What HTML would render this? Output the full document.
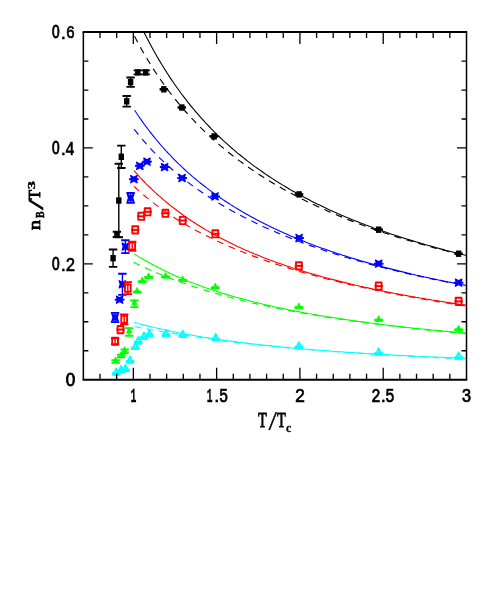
<!DOCTYPE html>
<html><head><meta charset="utf-8"><title>nB/T3</title>
<style>
html,body{margin:0;padding:0;background:#fff;}
body{width:491px;height:599px;position:relative;overflow:hidden;font-family:"Liberation Sans",sans-serif;}
</style></head><body>
<svg width="491" height="599" viewBox="0 0 491 599" style="position:absolute;left:0;top:0">
<rect x="0" y="0" width="491" height="599" fill="#ffffff"/>
<defs><clipPath id="cp"><rect x="83.35" y="32.1" width="383.15" height="347.59999999999997"/></clipPath></defs>
<g clip-path="url(#cp)" fill="none" stroke-linecap="butt" stroke-linejoin="round">
<path d="M133.5,34.2 L135.5,38.1 L137.5,41.9 L139.5,45.6 L141.5,49.2 L143.5,52.7 L145.5,56.1 L147.5,59.5 L149.5,62.8 L151.5,66.0 L153.5,69.1 L155.5,72.2 L157.5,75.2 L159.5,78.2 L161.5,81.0 L163.5,83.9 L165.5,86.6 L167.5,89.3 L169.5,92.0 L171.5,94.6 L173.5,97.1 L175.5,99.6 L177.5,102.1 L179.5,104.5 L181.5,106.9 L183.5,109.2 L185.5,111.5 L187.5,113.7 L189.5,115.9 L191.5,118.1 L193.5,120.2 L195.5,122.3 L197.5,124.4 L199.5,126.4 L201.5,128.4 L203.5,130.3 L205.5,132.3 L207.5,134.2 L209.5,136.0 L211.5,137.9 L213.5,139.7 L215.5,141.5 L217.5,143.2 L219.5,144.9 L221.5,146.6 L223.5,148.3 L225.5,150.0 L227.5,151.6 L229.5,153.2 L231.5,154.8 L233.5,156.3 L235.5,157.9 L237.5,159.4 L239.5,160.9 L241.5,162.3 L243.5,163.8 L245.5,165.2 L247.5,166.6 L249.5,168.0 L251.5,169.4 L253.5,170.8 L255.5,172.1 L257.5,173.4 L259.5,174.7 L261.5,176.0 L263.5,177.3 L265.5,178.5 L267.5,179.8 L269.5,181.0 L271.5,182.2 L273.5,183.4 L275.5,184.6 L277.5,185.8 L279.5,186.9 L281.5,188.1 L283.5,189.2 L285.5,190.3 L287.5,191.4 L289.5,192.5 L291.5,193.6 L293.5,194.6 L295.5,195.7 L297.5,196.7 L299.5,197.7 L301.5,198.8 L303.5,199.8 L305.5,200.8 L307.5,201.7 L309.5,202.7 L311.5,203.7 L313.5,204.6 L315.5,205.6 L317.5,206.5 L319.5,207.4 L321.5,208.3 L323.5,209.2 L325.5,210.1 L327.5,211.0 L329.5,211.9 L331.5,212.7 L333.5,213.6 L335.5,214.4 L337.5,215.3 L339.5,216.1 L341.5,216.9 L343.5,217.7 L345.5,218.6 L347.5,219.4 L349.5,220.1 L351.5,220.9 L353.5,221.7 L355.5,222.5 L357.5,223.2 L359.5,224.0 L361.5,224.7 L363.5,225.5 L365.5,226.2 L367.5,226.9 L369.5,227.6 L371.5,228.4 L373.5,229.1 L375.5,229.8 L377.5,230.5 L379.5,231.1 L381.5,231.8 L383.5,232.5 L385.5,233.2 L387.5,233.8 L389.5,234.5 L391.5,235.1 L393.5,235.8 L395.5,236.4 L397.5,237.1 L399.5,237.7 L401.5,238.3 L403.5,238.9 L405.5,239.5 L407.5,240.1 L409.5,240.7 L411.5,241.3 L413.5,241.9 L415.5,242.5 L417.5,243.1 L419.5,243.7 L421.5,244.3 L423.5,244.8 L425.5,245.4 L427.5,245.9 L429.5,246.5 L431.5,247.0 L433.5,247.6 L435.5,248.1 L437.5,248.7 L439.5,249.2 L441.5,249.7 L443.5,250.3 L445.5,250.8 L447.5,251.3 L449.5,251.8 L451.5,252.3 L453.5,252.8 L455.5,253.3 L457.5,253.8 L459.5,254.3 L461.5,254.8 L463.5,255.3 L465.5,255.8 L466.5,256.0" stroke="#000000" stroke-width="1.15" stroke-dasharray="6.8 5.7" stroke-dashoffset="-2.3"/>
<path d="M143.6,31.4 L145.6,35.4 L147.6,39.3 L149.6,43.1 L151.6,46.8 L153.6,50.5 L155.6,54.0 L157.6,57.5 L159.6,60.9 L161.6,64.3 L163.6,67.5 L165.6,70.7 L167.6,73.8 L169.6,76.9 L171.6,79.9 L173.6,82.8 L175.6,85.7 L177.6,88.5 L179.6,91.3 L181.6,94.0 L183.6,96.6 L185.6,99.2 L187.6,101.8 L189.6,104.3 L191.6,106.8 L193.6,109.2 L195.6,111.6 L197.6,113.9 L199.6,116.2 L201.6,118.4 L203.6,120.6 L205.6,122.8 L207.6,124.9 L209.6,127.0 L211.6,129.1 L213.6,131.1 L215.6,133.1 L217.6,135.1 L219.6,137.0 L221.6,138.9 L223.6,140.8 L225.6,142.6 L227.6,144.4 L229.6,146.2 L231.6,148.0 L233.6,149.7 L235.6,151.4 L237.6,153.1 L239.6,154.7 L241.6,156.3 L243.6,157.9 L245.6,159.5 L247.6,161.1 L249.6,162.6 L251.6,164.1 L253.6,165.6 L255.6,167.1 L257.6,168.5 L259.6,169.9 L261.6,171.3 L263.6,172.7 L265.6,174.1 L267.6,175.5 L269.6,176.8 L271.6,178.1 L273.6,179.4 L275.6,180.7 L277.6,181.9 L279.6,183.2 L281.6,184.4 L283.6,185.6 L285.6,186.8 L287.6,188.0 L289.6,189.2 L291.6,190.4 L293.6,191.5 L295.6,192.6 L297.6,193.7 L299.6,194.8 L301.6,195.9 L303.6,197.0 L305.6,198.1 L307.6,199.1 L309.6,200.1 L311.6,201.2 L313.6,202.2 L315.6,203.2 L317.6,204.2 L319.6,205.1 L321.6,206.1 L323.6,207.1 L325.6,208.0 L327.6,208.9 L329.6,209.9 L331.6,210.8 L333.6,211.7 L335.6,212.6 L337.6,213.5 L339.6,214.3 L341.6,215.2 L343.6,216.1 L345.6,216.9 L347.6,217.7 L349.6,218.6 L351.6,219.4 L353.6,220.2 L355.6,221.0 L357.6,221.8 L359.6,222.6 L361.6,223.4 L363.6,224.1 L365.6,224.9 L367.6,225.6 L369.6,226.4 L371.6,227.1 L373.6,227.9 L375.6,228.6 L377.6,229.3 L379.6,230.0 L381.6,230.7 L383.6,231.4 L385.6,232.1 L387.6,232.8 L389.6,233.5 L391.6,234.2 L393.6,234.8 L395.6,235.5 L397.6,236.1 L399.6,236.8 L401.6,237.4 L403.6,238.1 L405.6,238.7 L407.6,239.3 L409.6,239.9 L411.6,240.5 L413.6,241.1 L415.6,241.7 L417.6,242.3 L419.6,242.9 L421.6,243.5 L423.6,244.1 L425.6,244.7 L427.6,245.3 L429.6,245.8 L431.6,246.4 L433.6,246.9 L435.6,247.5 L437.6,248.0 L439.6,248.6 L441.6,249.1 L443.6,249.6 L445.6,250.2 L447.6,250.7 L449.6,251.2 L451.6,251.7 L453.6,252.2 L455.6,252.7 L457.6,253.3 L459.6,253.8 L461.6,254.2 L463.6,254.7 L465.6,255.2 L466.5,255.4" stroke="#000000" stroke-width="1.1"/>
<path d="M133.7,128.7 L135.7,131.2 L137.7,133.7 L139.7,136.2 L141.7,138.6 L143.7,140.9 L145.7,143.2 L147.7,145.5 L149.7,147.7 L151.7,149.8 L153.7,151.9 L155.7,154.0 L157.7,156.0 L159.7,158.0 L161.7,159.9 L163.7,161.8 L165.7,163.7 L167.7,165.5 L169.7,167.3 L171.7,169.0 L173.7,170.8 L175.7,172.5 L177.7,174.1 L179.7,175.8 L181.7,177.4 L183.7,179.0 L185.7,180.6 L187.7,182.1 L189.7,183.6 L191.7,185.1 L193.7,186.6 L195.7,188.0 L197.7,189.4 L199.7,190.8 L201.7,192.2 L203.7,193.5 L205.7,194.9 L207.7,196.2 L209.7,197.5 L211.7,198.8 L213.7,200.0 L215.7,201.3 L217.7,202.5 L219.7,203.7 L221.7,204.9 L223.7,206.1 L225.7,207.3 L227.7,208.4 L229.7,209.5 L231.7,210.7 L233.7,211.8 L235.7,212.8 L237.7,213.9 L239.7,215.0 L241.7,216.0 L243.7,217.1 L245.7,218.1 L247.7,219.1 L249.7,220.1 L251.7,221.1 L253.7,222.1 L255.7,223.0 L257.7,224.0 L259.7,224.9 L261.7,225.8 L263.7,226.8 L265.7,227.7 L267.7,228.6 L269.7,229.5 L271.7,230.3 L273.7,231.2 L275.7,232.1 L277.7,232.9 L279.7,233.8 L281.7,234.6 L283.7,235.4 L285.7,236.2 L287.7,237.0 L289.7,237.8 L291.7,238.6 L293.7,239.4 L295.7,240.2 L297.7,240.9 L299.7,241.7 L301.7,242.4 L303.7,243.2 L305.7,243.9 L307.7,244.6 L309.7,245.4 L311.7,246.1 L313.7,246.8 L315.7,247.5 L317.7,248.2 L319.7,248.8 L321.7,249.5 L323.7,250.2 L325.7,250.9 L327.7,251.5 L329.7,252.2 L331.7,252.8 L333.7,253.5 L335.7,254.1 L337.7,254.7 L339.7,255.4 L341.7,256.0 L343.7,256.6 L345.7,257.2 L347.7,257.8 L349.7,258.4 L351.7,259.0 L353.7,259.6 L355.7,260.1 L357.7,260.7 L359.7,261.3 L361.7,261.8 L363.7,262.4 L365.7,263.0 L367.7,263.5 L369.7,264.1 L371.7,264.6 L373.7,265.1 L375.7,265.7 L377.7,266.2 L379.7,266.7 L381.7,267.2 L383.7,267.8 L385.7,268.3 L387.7,268.8 L389.7,269.3 L391.7,269.8 L393.7,270.3 L395.7,270.8 L397.7,271.2 L399.7,271.7 L401.7,272.2 L403.7,272.7 L405.7,273.1 L407.7,273.6 L409.7,274.1 L411.7,274.5 L413.7,275.0 L415.7,275.4 L417.7,275.9 L419.7,276.3 L421.7,276.8 L423.7,277.2 L425.7,277.7 L427.7,278.1 L429.7,278.5 L431.7,278.9 L433.7,279.4 L435.7,279.8 L437.7,280.2 L439.7,280.6 L441.7,281.0 L443.7,281.4 L445.7,281.8 L447.7,282.2 L449.7,282.6 L451.7,283.0 L453.7,283.4 L455.7,283.8 L457.7,284.2 L459.7,284.6 L461.7,285.0 L463.7,285.4 L465.7,285.7 L466.5,285.9" stroke="#0000ff" stroke-width="1.15" stroke-dasharray="6.8 5.7" stroke-dashoffset="-0.8"/>
<path d="M134.6,110.2 L136.6,113.2 L138.6,116.2 L140.6,119.1 L142.6,121.9 L144.6,124.7 L146.6,127.4 L148.6,130.0 L150.6,132.6 L152.6,135.1 L154.6,137.6 L156.6,140.0 L158.6,142.4 L160.6,144.8 L162.6,147.0 L164.6,149.3 L166.6,151.5 L168.6,153.6 L170.6,155.7 L172.6,157.8 L174.6,159.8 L176.6,161.8 L178.6,163.8 L180.6,165.7 L182.6,167.6 L184.6,169.5 L186.6,171.3 L188.6,173.1 L190.6,174.8 L192.6,176.6 L194.6,178.3 L196.6,179.9 L198.6,181.6 L200.6,183.2 L202.6,184.8 L204.6,186.3 L206.6,187.9 L208.6,189.4 L210.6,190.9 L212.6,192.4 L214.6,193.8 L216.6,195.2 L218.6,196.6 L220.6,198.0 L222.6,199.4 L224.6,200.7 L226.6,202.0 L228.6,203.3 L230.6,204.6 L232.6,205.8 L234.6,207.1 L236.6,208.3 L238.6,209.5 L240.6,210.7 L242.6,211.9 L244.6,213.0 L246.6,214.2 L248.6,215.3 L250.6,216.4 L252.6,217.5 L254.6,218.6 L256.6,219.7 L258.6,220.7 L260.6,221.8 L262.6,222.8 L264.6,223.8 L266.6,224.8 L268.6,225.8 L270.6,226.7 L272.6,227.7 L274.6,228.7 L276.6,229.6 L278.6,230.5 L280.6,231.4 L282.6,232.3 L284.6,233.2 L286.6,234.1 L288.6,235.0 L290.6,235.9 L292.6,236.7 L294.6,237.5 L296.6,238.4 L298.6,239.2 L300.6,240.0 L302.6,240.8 L304.6,241.6 L306.6,242.4 L308.6,243.2 L310.6,243.9 L312.6,244.7 L314.6,245.4 L316.6,246.2 L318.6,246.9 L320.6,247.7 L322.6,248.4 L324.6,249.1 L326.6,249.8 L328.6,250.5 L330.6,251.2 L332.6,251.9 L334.6,252.5 L336.6,253.2 L338.6,253.9 L340.6,254.5 L342.6,255.2 L344.6,255.8 L346.6,256.4 L348.6,257.1 L350.6,257.7 L352.6,258.3 L354.6,258.9 L356.6,259.5 L358.6,260.1 L360.6,260.7 L362.6,261.3 L364.6,261.9 L366.6,262.4 L368.6,263.0 L370.6,263.6 L372.6,264.1 L374.6,264.7 L376.6,265.2 L378.6,265.8 L380.6,266.3 L382.6,266.8 L384.6,267.4 L386.6,267.9 L388.6,268.4 L390.6,268.9 L392.6,269.4 L394.6,269.9 L396.6,270.4 L398.6,270.9 L400.6,271.4 L402.6,271.9 L404.6,272.4 L406.6,272.9 L408.6,273.3 L410.6,273.8 L412.6,274.3 L414.6,274.7 L416.6,275.2 L418.6,275.6 L420.6,276.1 L422.6,276.5 L424.6,277.0 L426.6,277.4 L428.6,277.8 L430.6,278.3 L432.6,278.7 L434.6,279.1 L436.6,279.5 L438.6,280.0 L440.6,280.4 L442.6,280.8 L444.6,281.2 L446.6,281.6 L448.6,282.0 L450.6,282.4 L452.6,282.8 L454.6,283.2 L456.6,283.6 L458.6,284.0 L460.6,284.3 L462.6,284.7 L464.6,285.1 L466.5,285.4" stroke="#0000ff" stroke-width="1.1"/>
<path d="M134.0,186.4 L136.0,188.2 L138.0,190.1 L140.0,191.9 L142.0,193.6 L144.0,195.3 L146.0,197.0 L148.0,198.6 L150.0,200.3 L152.0,201.8 L154.0,203.4 L156.0,204.9 L158.0,206.4 L160.0,207.9 L162.0,209.3 L164.0,210.7 L166.0,212.1 L168.0,213.5 L170.0,214.8 L172.0,216.1 L174.0,217.4 L176.0,218.7 L178.0,219.9 L180.0,221.2 L182.0,222.4 L184.0,223.6 L186.0,224.7 L188.0,225.9 L190.0,227.0 L192.0,228.2 L194.0,229.3 L196.0,230.4 L198.0,231.4 L200.0,232.5 L202.0,233.5 L204.0,234.6 L206.0,235.6 L208.0,236.6 L210.0,237.6 L212.0,238.5 L214.0,239.5 L216.0,240.5 L218.0,241.4 L220.0,242.3 L222.0,243.2 L224.0,244.1 L226.0,245.0 L228.0,245.9 L230.0,246.8 L232.0,247.6 L234.0,248.5 L236.0,249.3 L238.0,250.1 L240.0,250.9 L242.0,251.7 L244.0,252.5 L246.0,253.3 L248.0,254.1 L250.0,254.9 L252.0,255.6 L254.0,256.4 L256.0,257.1 L258.0,257.8 L260.0,258.6 L262.0,259.3 L264.0,260.0 L266.0,260.7 L268.0,261.4 L270.0,262.1 L272.0,262.8 L274.0,263.4 L276.0,264.1 L278.0,264.8 L280.0,265.4 L282.0,266.0 L284.0,266.7 L286.0,267.3 L288.0,267.9 L290.0,268.6 L292.0,269.2 L294.0,269.8 L296.0,270.4 L298.0,271.0 L300.0,271.6 L302.0,272.1 L304.0,272.7 L306.0,273.3 L308.0,273.8 L310.0,274.4 L312.0,275.0 L314.0,275.5 L316.0,276.0 L318.0,276.6 L320.0,277.1 L322.0,277.6 L324.0,278.2 L326.0,278.7 L328.0,279.2 L330.0,279.7 L332.0,280.2 L334.0,280.7 L336.0,281.2 L338.0,281.7 L340.0,282.2 L342.0,282.7 L344.0,283.1 L346.0,283.6 L348.0,284.1 L350.0,284.6 L352.0,285.0 L354.0,285.5 L356.0,285.9 L358.0,286.4 L360.0,286.8 L362.0,287.3 L364.0,287.7 L366.0,288.1 L368.0,288.6 L370.0,289.0 L372.0,289.4 L374.0,289.8 L376.0,290.2 L378.0,290.7 L380.0,291.1 L382.0,291.5 L384.0,291.9 L386.0,292.3 L388.0,292.7 L390.0,293.1 L392.0,293.5 L394.0,293.8 L396.0,294.2 L398.0,294.6 L400.0,295.0 L402.0,295.4 L404.0,295.7 L406.0,296.1 L408.0,296.5 L410.0,296.8 L412.0,297.2 L414.0,297.5 L416.0,297.9 L418.0,298.3 L420.0,298.6 L422.0,298.9 L424.0,299.3 L426.0,299.6 L428.0,300.0 L430.0,300.3 L432.0,300.6 L434.0,301.0 L436.0,301.3 L438.0,301.6 L440.0,302.0 L442.0,302.3 L444.0,302.6 L446.0,302.9 L448.0,303.2 L450.0,303.5 L452.0,303.9 L454.0,304.2 L456.0,304.5 L458.0,304.8 L460.0,305.1 L462.0,305.4 L464.0,305.7 L466.0,306.0 L466.5,306.0" stroke="#ff0000" stroke-width="1.15" stroke-dasharray="6.8 5.7" stroke-dashoffset="0"/>
<path d="M134.0,170.7 L136.0,172.9 L138.0,175.1 L140.0,177.3 L142.0,179.4 L144.0,181.5 L146.0,183.6 L148.0,185.6 L150.0,187.5 L152.0,189.4 L154.0,191.3 L156.0,193.2 L158.0,195.0 L160.0,196.7 L162.0,198.5 L164.0,200.2 L166.0,201.9 L168.0,203.5 L170.0,205.1 L172.0,206.7 L174.0,208.3 L176.0,209.8 L178.0,211.3 L180.0,212.8 L182.0,214.3 L184.0,215.7 L186.0,217.1 L188.0,218.5 L190.0,219.8 L192.0,221.2 L194.0,222.5 L196.0,223.8 L198.0,225.0 L200.0,226.3 L202.0,227.5 L204.0,228.7 L206.0,229.9 L208.0,231.1 L210.0,232.2 L212.0,233.4 L214.0,234.5 L216.0,235.6 L218.0,236.7 L220.0,237.7 L222.0,238.8 L224.0,239.8 L226.0,240.8 L228.0,241.8 L230.0,242.8 L232.0,243.8 L234.0,244.8 L236.0,245.7 L238.0,246.7 L240.0,247.6 L242.0,248.5 L244.0,249.4 L246.0,250.3 L248.0,251.1 L250.0,252.0 L252.0,252.8 L254.0,253.7 L256.0,254.5 L258.0,255.3 L260.0,256.1 L262.0,256.9 L264.0,257.7 L266.0,258.5 L268.0,259.2 L270.0,260.0 L272.0,260.7 L274.0,261.5 L276.0,262.2 L278.0,262.9 L280.0,263.6 L282.0,264.3 L284.0,265.0 L286.0,265.7 L288.0,266.4 L290.0,267.0 L292.0,267.7 L294.0,268.3 L296.0,269.0 L298.0,269.6 L300.0,270.3 L302.0,270.9 L304.0,271.5 L306.0,272.1 L308.0,272.7 L310.0,273.3 L312.0,273.9 L314.0,274.4 L316.0,275.0 L318.0,275.6 L320.0,276.1 L322.0,276.7 L324.0,277.2 L326.0,277.8 L328.0,278.3 L330.0,278.9 L332.0,279.4 L334.0,279.9 L336.0,280.4 L338.0,280.9 L340.0,281.4 L342.0,281.9 L344.0,282.4 L346.0,282.9 L348.0,283.4 L350.0,283.9 L352.0,284.3 L354.0,284.8 L356.0,285.3 L358.0,285.7 L360.0,286.2 L362.0,286.6 L364.0,287.1 L366.0,287.5 L368.0,287.9 L370.0,288.4 L372.0,288.8 L374.0,289.2 L376.0,289.7 L378.0,290.1 L380.0,290.5 L382.0,290.9 L384.0,291.3 L386.0,291.7 L388.0,292.1 L390.0,292.5 L392.0,292.9 L394.0,293.3 L396.0,293.6 L398.0,294.0 L400.0,294.4 L402.0,294.8 L404.0,295.1 L406.0,295.5 L408.0,295.9 L410.0,296.2 L412.0,296.6 L414.0,296.9 L416.0,297.3 L418.0,297.6 L420.0,298.0 L422.0,298.3 L424.0,298.6 L426.0,299.0 L428.0,299.3 L430.0,299.6 L432.0,300.0 L434.0,300.3 L436.0,300.6 L438.0,300.9 L440.0,301.2 L442.0,301.5 L444.0,301.9 L446.0,302.2 L448.0,302.5 L450.0,302.8 L452.0,303.1 L454.0,303.4 L456.0,303.7 L458.0,304.0 L460.0,304.2 L462.0,304.5 L464.0,304.8 L466.0,305.1 L466.5,305.2" stroke="#ff0000" stroke-width="1.1"/>
<path d="M133.6,262.2 L135.6,263.2 L137.6,264.2 L139.6,265.1 L141.6,266.1 L143.6,267.0 L145.6,267.9 L147.6,268.8 L149.6,269.7 L151.6,270.6 L153.6,271.5 L155.6,272.3 L157.6,273.2 L159.6,274.0 L161.6,274.8 L163.6,275.6 L165.6,276.4 L167.6,277.2 L169.6,278.0 L171.6,278.8 L173.6,279.5 L175.6,280.3 L177.6,281.0 L179.6,281.7 L181.6,282.5 L183.6,283.2 L185.6,283.9 L187.6,284.6 L189.6,285.2 L191.6,285.9 L193.6,286.6 L195.6,287.2 L197.6,287.9 L199.6,288.5 L201.6,289.1 L203.6,289.8 L205.6,290.4 L207.6,291.0 L209.6,291.6 L211.6,292.2 L213.6,292.8 L215.6,293.4 L217.6,293.9 L219.6,294.5 L221.6,295.1 L223.6,295.6 L225.6,296.2 L227.6,296.7 L229.6,297.2 L231.6,297.7 L233.6,298.3 L235.6,298.8 L237.6,299.3 L239.6,299.8 L241.6,300.3 L243.6,300.8 L245.6,301.3 L247.6,301.7 L249.6,302.2 L251.6,302.7 L253.6,303.2 L255.6,303.6 L257.6,304.1 L259.6,304.5 L261.6,305.0 L263.6,305.4 L265.6,305.8 L267.6,306.3 L269.6,306.7 L271.6,307.1 L273.6,307.5 L275.6,307.9 L277.6,308.3 L279.6,308.7 L281.6,309.1 L283.6,309.5 L285.6,309.9 L287.6,310.3 L289.6,310.7 L291.6,311.1 L293.6,311.4 L295.6,311.8 L297.6,312.2 L299.6,312.5 L301.6,312.9 L303.6,313.3 L305.6,313.6 L307.6,314.0 L309.6,314.3 L311.6,314.7 L313.6,315.0 L315.6,315.3 L317.6,315.7 L319.6,316.0 L321.6,316.3 L323.6,316.6 L325.6,317.0 L327.6,317.3 L329.6,317.6 L331.6,317.9 L333.6,318.2 L335.6,318.5 L337.6,318.8 L339.6,319.1 L341.6,319.4 L343.6,319.7 L345.6,320.0 L347.6,320.3 L349.6,320.6 L351.6,320.9 L353.6,321.1 L355.6,321.4 L357.6,321.7 L359.6,322.0 L361.6,322.2 L363.6,322.5 L365.6,322.8 L367.6,323.0 L369.6,323.3 L371.6,323.6 L373.6,323.8 L375.6,324.1 L377.6,324.3 L379.6,324.6 L381.6,324.8 L383.6,325.1 L385.6,325.3 L387.6,325.6 L389.6,325.8 L391.6,326.0 L393.6,326.3 L395.6,326.5 L397.6,326.7 L399.6,327.0 L401.6,327.2 L403.6,327.4 L405.6,327.7 L407.6,327.9 L409.6,328.1 L411.6,328.3 L413.6,328.5 L415.6,328.8 L417.6,329.0 L419.6,329.2 L421.6,329.4 L423.6,329.6 L425.6,329.8 L427.6,330.0 L429.6,330.2 L431.6,330.4 L433.6,330.6 L435.6,330.8 L437.6,331.0 L439.6,331.2 L441.6,331.4 L443.6,331.6 L445.6,331.8 L447.6,332.0 L449.6,332.2 L451.6,332.4 L453.6,332.6 L455.6,332.8 L457.6,333.0 L459.6,333.1 L461.6,333.3 L463.6,333.5 L465.6,333.7 L466.5,333.8" stroke="#00ff00" stroke-width="1.15" stroke-dasharray="6.8 5.7" stroke-dashoffset="0"/>
<path d="M134.3,253.9 L136.3,255.2 L138.3,256.4 L140.3,257.6 L142.3,258.8 L144.3,260.0 L146.3,261.1 L148.3,262.2 L150.3,263.4 L152.3,264.4 L154.3,265.5 L156.3,266.6 L158.3,267.6 L160.3,268.6 L162.3,269.6 L164.3,270.6 L166.3,271.6 L168.3,272.5 L170.3,273.4 L172.3,274.4 L174.3,275.3 L176.3,276.2 L178.3,277.0 L180.3,277.9 L182.3,278.7 L184.3,279.6 L186.3,280.4 L188.3,281.2 L190.3,282.0 L192.3,282.8 L194.3,283.5 L196.3,284.3 L198.3,285.0 L200.3,285.8 L202.3,286.5 L204.3,287.2 L206.3,287.9 L208.3,288.6 L210.3,289.3 L212.3,289.9 L214.3,290.6 L216.3,291.3 L218.3,291.9 L220.3,292.5 L222.3,293.2 L224.3,293.8 L226.3,294.4 L228.3,295.0 L230.3,295.6 L232.3,296.1 L234.3,296.7 L236.3,297.3 L238.3,297.8 L240.3,298.4 L242.3,298.9 L244.3,299.5 L246.3,300.0 L248.3,300.5 L250.3,301.0 L252.3,301.5 L254.3,302.0 L256.3,302.5 L258.3,303.0 L260.3,303.5 L262.3,304.0 L264.3,304.5 L266.3,304.9 L268.3,305.4 L270.3,305.8 L272.3,306.3 L274.3,306.7 L276.3,307.2 L278.3,307.6 L280.3,308.0 L282.3,308.4 L284.3,308.9 L286.3,309.3 L288.3,309.7 L290.3,310.1 L292.3,310.5 L294.3,310.9 L296.3,311.2 L298.3,311.6 L300.3,312.0 L302.3,312.4 L304.3,312.8 L306.3,313.1 L308.3,313.5 L310.3,313.8 L312.3,314.2 L314.3,314.5 L316.3,314.9 L318.3,315.2 L320.3,315.6 L322.3,315.9 L324.3,316.2 L326.3,316.6 L328.3,316.9 L330.3,317.2 L332.3,317.5 L334.3,317.8 L336.3,318.1 L338.3,318.5 L340.3,318.8 L342.3,319.1 L344.3,319.4 L346.3,319.7 L348.3,319.9 L350.3,320.2 L352.3,320.5 L354.3,320.8 L356.3,321.1 L358.3,321.4 L360.3,321.6 L362.3,321.9 L364.3,322.2 L366.3,322.4 L368.3,322.7 L370.3,323.0 L372.3,323.2 L374.3,323.5 L376.3,323.7 L378.3,324.0 L380.3,324.3 L382.3,324.5 L384.3,324.7 L386.3,325.0 L388.3,325.2 L390.3,325.5 L392.3,325.7 L394.3,325.9 L396.3,326.2 L398.3,326.4 L400.3,326.6 L402.3,326.9 L404.3,327.1 L406.3,327.3 L408.3,327.5 L410.3,327.7 L412.3,328.0 L414.3,328.2 L416.3,328.4 L418.3,328.6 L420.3,328.8 L422.3,329.0 L424.3,329.2 L426.3,329.4 L428.3,329.6 L430.3,329.8 L432.3,330.0 L434.3,330.2 L436.3,330.4 L438.3,330.6 L440.3,330.8 L442.3,331.0 L444.3,331.2 L446.3,331.4 L448.3,331.5 L450.3,331.7 L452.3,331.9 L454.3,332.1 L456.3,332.3 L458.3,332.4 L460.3,332.6 L462.3,332.8 L464.3,333.0 L466.3,333.1 L466.5,333.2" stroke="#00ff00" stroke-width="1.1"/>
<path d="M134.4,326.7 L136.4,327.0 L138.4,327.4 L140.4,327.7 L142.4,328.1 L144.4,328.4 L146.4,328.8 L148.4,329.1 L150.4,329.5 L152.4,329.8 L154.4,330.2 L156.4,330.5 L158.4,330.9 L160.4,331.2 L162.4,331.6 L164.4,331.9 L166.4,332.2 L168.4,332.6 L170.4,332.9 L172.4,333.2 L174.4,333.6 L176.4,333.9 L178.4,334.2 L180.4,334.5 L182.4,334.9 L184.4,335.2 L186.4,335.5 L188.4,335.8 L190.4,336.1 L192.4,336.4 L194.4,336.7 L196.4,337.0 L198.4,337.3 L200.4,337.6 L202.4,337.9 L204.4,338.2 L206.4,338.5 L208.4,338.7 L210.4,339.0 L212.4,339.3 L214.4,339.6 L216.4,339.8 L218.4,340.1 L220.4,340.4 L222.4,340.6 L224.4,340.9 L226.4,341.2 L228.4,341.4 L230.4,341.7 L232.4,341.9 L234.4,342.2 L236.4,342.4 L238.4,342.6 L240.4,342.9 L242.4,343.1 L244.4,343.3 L246.4,343.6 L248.4,343.8 L250.4,344.0 L252.4,344.2 L254.4,344.5 L256.4,344.7 L258.4,344.9 L260.4,345.1 L262.4,345.3 L264.4,345.5 L266.4,345.7 L268.4,345.9 L270.4,346.1 L272.4,346.3 L274.4,346.5 L276.4,346.7 L278.4,346.9 L280.4,347.1 L282.4,347.3 L284.4,347.5 L286.4,347.7 L288.4,347.9 L290.4,348.1 L292.4,348.2 L294.4,348.4 L296.4,348.6 L298.4,348.8 L300.4,348.9 L302.4,349.1 L304.4,349.3 L306.4,349.5 L308.4,349.6 L310.4,349.8 L312.4,349.9 L314.4,350.1 L316.4,350.3 L318.4,350.4 L320.4,350.6 L322.4,350.7 L324.4,350.9 L326.4,351.0 L328.4,351.2 L330.4,351.3 L332.4,351.5 L334.4,351.6 L336.4,351.8 L338.4,351.9 L340.4,352.1 L342.4,352.2 L344.4,352.4 L346.4,352.5 L348.4,352.6 L350.4,352.8 L352.4,352.9 L354.4,353.0 L356.4,353.2 L358.4,353.3 L360.4,353.4 L362.4,353.6 L364.4,353.7 L366.4,353.8 L368.4,353.9 L370.4,354.1 L372.4,354.2 L374.4,354.3 L376.4,354.4 L378.4,354.5 L380.4,354.7 L382.4,354.8 L384.4,354.9 L386.4,355.0 L388.4,355.1 L390.4,355.2 L392.4,355.4 L394.4,355.5 L396.4,355.6 L398.4,355.7 L400.4,355.8 L402.4,355.9 L404.4,356.0 L406.4,356.1 L408.4,356.2 L410.4,356.3 L412.4,356.4 L414.4,356.5 L416.4,356.6 L418.4,356.7 L420.4,356.8 L422.4,356.9 L424.4,357.0 L426.4,357.1 L428.4,357.2 L430.4,357.3 L432.4,357.4 L434.4,357.5 L436.4,357.6 L438.4,357.7 L440.4,357.8 L442.4,357.9 L444.4,358.0 L446.4,358.1 L448.4,358.2 L450.4,358.3 L452.4,358.3 L454.4,358.4 L456.4,358.5 L458.4,358.6 L460.4,358.7 L462.4,358.8 L464.4,358.9 L466.4,358.9 L466.5,358.9" stroke="#00ffff" stroke-width="1.15" stroke-dasharray="6.8 5.7" stroke-dashoffset="0"/>
<path d="M134.4,322.4 L136.4,323.0 L138.4,323.5 L140.4,324.0 L142.4,324.6 L144.4,325.1 L146.4,325.6 L148.4,326.1 L150.4,326.6 L152.4,327.0 L154.4,327.5 L156.4,328.0 L158.4,328.4 L160.4,328.9 L162.4,329.3 L164.4,329.8 L166.4,330.2 L168.4,330.6 L170.4,331.1 L172.4,331.5 L174.4,331.9 L176.4,332.3 L178.4,332.7 L180.4,333.1 L182.4,333.4 L184.4,333.8 L186.4,334.2 L188.4,334.6 L190.4,334.9 L192.4,335.3 L194.4,335.6 L196.4,336.0 L198.4,336.3 L200.4,336.6 L202.4,337.0 L204.4,337.3 L206.4,337.6 L208.4,337.9 L210.4,338.2 L212.4,338.5 L214.4,338.8 L216.4,339.1 L218.4,339.4 L220.4,339.7 L222.4,340.0 L224.4,340.3 L226.4,340.6 L228.4,340.8 L230.4,341.1 L232.4,341.4 L234.4,341.6 L236.4,341.9 L238.4,342.2 L240.4,342.4 L242.4,342.7 L244.4,342.9 L246.4,343.1 L248.4,343.4 L250.4,343.6 L252.4,343.9 L254.4,344.1 L256.4,344.3 L258.4,344.5 L260.4,344.8 L262.4,345.0 L264.4,345.2 L266.4,345.4 L268.4,345.6 L270.4,345.8 L272.4,346.0 L274.4,346.2 L276.4,346.4 L278.4,346.6 L280.4,346.8 L282.4,347.0 L284.4,347.2 L286.4,347.4 L288.4,347.6 L290.4,347.8 L292.4,348.0 L294.4,348.1 L296.4,348.3 L298.4,348.5 L300.4,348.7 L302.4,348.8 L304.4,349.0 L306.4,349.2 L308.4,349.3 L310.4,349.5 L312.4,349.7 L314.4,349.8 L316.4,350.0 L318.4,350.1 L320.4,350.3 L322.4,350.5 L324.4,350.6 L326.4,350.8 L328.4,350.9 L330.4,351.1 L332.4,351.2 L334.4,351.4 L336.4,351.5 L338.4,351.6 L340.4,351.8 L342.4,351.9 L344.4,352.1 L346.4,352.2 L348.4,352.3 L350.4,352.5 L352.4,352.6 L354.4,352.7 L356.4,352.8 L358.4,353.0 L360.4,353.1 L362.4,353.2 L364.4,353.4 L366.4,353.5 L368.4,353.6 L370.4,353.7 L372.4,353.8 L374.4,354.0 L376.4,354.1 L378.4,354.2 L380.4,354.3 L382.4,354.4 L384.4,354.5 L386.4,354.6 L388.4,354.8 L390.4,354.9 L392.4,355.0 L394.4,355.1 L396.4,355.2 L398.4,355.3 L400.4,355.4 L402.4,355.5 L404.4,355.6 L406.4,355.7 L408.4,355.8 L410.4,355.9 L412.4,356.0 L414.4,356.1 L416.4,356.2 L418.4,356.3 L420.4,356.4 L422.4,356.5 L424.4,356.6 L426.4,356.7 L428.4,356.8 L430.4,356.9 L432.4,357.0 L434.4,357.0 L436.4,357.1 L438.4,357.2 L440.4,357.3 L442.4,357.4 L444.4,357.5 L446.4,357.6 L448.4,357.7 L450.4,357.7 L452.4,357.8 L454.4,357.9 L456.4,358.0 L458.4,358.1 L460.4,358.2 L462.4,358.2 L464.4,358.3 L466.4,358.4 L466.5,358.4" stroke="#00ffff" stroke-width="1.1"/>
</g>
<g>
<path d="M113.1,249.5V266.9" stroke="#000000" stroke-width="1.4" fill="none"/><path d="M108.9,249.5H117.3M108.9,266.9H117.3" stroke="#000000" stroke-width="1.9" fill="none"/><rect x="110.4" y="255.0" width="5.4" height="6.4" fill="#000000"/>
<path d="M116.9,231.8V237.0" stroke="#000000" stroke-width="1.4" fill="none"/><path d="M112.7,231.8H121.1M112.7,237.0H121.1" stroke="#000000" stroke-width="1.9" fill="none"/><rect x="114.2" y="231.2" width="5.4" height="6.4" fill="#000000"/>
<path d="M118.8,163.8V237.2" stroke="#000000" stroke-width="1.4" fill="none"/><path d="M114.6,163.8H123.0M114.6,237.2H123.0" stroke="#000000" stroke-width="1.9" fill="none"/><rect x="116.1" y="197.3" width="5.4" height="6.4" fill="#000000"/>
<path d="M121.3,145.6V168.0" stroke="#000000" stroke-width="1.4" fill="none"/><path d="M117.1,145.6H125.5M117.1,168.0H125.5" stroke="#000000" stroke-width="1.9" fill="none"/><rect x="118.6" y="153.6" width="5.4" height="6.4" fill="#000000"/>
<path d="M126.7,96.0V106.6" stroke="#000000" stroke-width="1.4" fill="none"/><path d="M122.5,96.0H130.9M122.5,106.6H130.9" stroke="#000000" stroke-width="1.9" fill="none"/><rect x="124.0" y="98.1" width="5.4" height="6.4" fill="#000000"/>
<path d="M130.6,77.5V86.9" stroke="#000000" stroke-width="1.4" fill="none"/><path d="M126.4,77.5H134.8M126.4,86.9H134.8" stroke="#000000" stroke-width="1.9" fill="none"/><rect x="127.9" y="79.0" width="5.4" height="6.4" fill="#000000"/>
<path d="M137.8,70.4V74.4" stroke="#000000" stroke-width="1.4" fill="none"/><path d="M133.6,70.4H142.0M133.6,74.4H142.0" stroke="#000000" stroke-width="1.9" fill="none"/><rect x="135.1" y="69.2" width="5.4" height="6.4" fill="#000000"/>
<path d="M145.7,70.4V74.4" stroke="#000000" stroke-width="1.4" fill="none"/><path d="M141.5,70.4H149.9M141.5,74.4H149.9" stroke="#000000" stroke-width="1.9" fill="none"/><rect x="143.0" y="69.2" width="5.4" height="6.4" fill="#000000"/>
<path d="M159.6,89.3H168.0" stroke="#000000" stroke-width="2.6" fill="none"/><rect x="161.1" y="86.1" width="5.4" height="6.4" fill="#000000"/>
<path d="M177.6,107.5H186.0" stroke="#000000" stroke-width="2.6" fill="none"/><rect x="179.1" y="104.3" width="5.4" height="6.4" fill="#000000"/>
<path d="M209.9,136.4H218.3" stroke="#000000" stroke-width="2.6" fill="none"/><rect x="211.4" y="133.2" width="5.4" height="6.4" fill="#000000"/>
<path d="M294.9,194.4H303.3" stroke="#000000" stroke-width="2.6" fill="none"/><rect x="296.4" y="191.2" width="5.4" height="6.4" fill="#000000"/>
<path d="M374.5,229.7H382.9" stroke="#000000" stroke-width="2.6" fill="none"/><rect x="376.0" y="226.5" width="5.4" height="6.4" fill="#000000"/>
<path d="M454.4,253.7H462.8" stroke="#000000" stroke-width="2.6" fill="none"/><rect x="455.9" y="250.5" width="5.4" height="6.4" fill="#000000"/>
<path d="M115.1,312.9V322.1" stroke="#0000ff" stroke-width="1.4" fill="none"/><path d="M110.9,312.9H119.3M110.9,322.1H119.3" stroke="#0000ff" stroke-width="1.9" fill="none"/><path d="M111.9,313.9L115.1,315.7L118.3,313.9L117.2,317.5L118.3,321.1L115.1,319.3L111.9,321.1L113.0,317.5Z" fill="#0000ff" stroke="#0000ff" stroke-width="1.3" stroke-linejoin="round"/>
<path d="M114.8,299.7H124.4" stroke="#0000ff" stroke-width="2" fill="none"/><path d="M116.4,296.1L119.6,297.9L122.8,296.1L121.7,299.7L122.8,303.3L119.6,301.5L116.4,303.3L117.5,299.7Z" fill="#0000ff" stroke="#0000ff" stroke-width="1.3" stroke-linejoin="round"/>
<path d="M122.4,273.7V294.9" stroke="#0000ff" stroke-width="1.4" fill="none"/><path d="M118.2,273.7H126.6M118.2,294.9H126.6" stroke="#0000ff" stroke-width="1.9" fill="none"/><path d="M119.2,280.7L122.4,282.5L125.6,280.7L124.5,284.3L125.6,287.9L122.4,286.1L119.2,287.9L120.3,284.3Z" fill="#0000ff" stroke="#0000ff" stroke-width="1.3" stroke-linejoin="round"/>
<path d="M125.4,240.3V253.1" stroke="#0000ff" stroke-width="1.4" fill="none"/><path d="M121.2,240.3H129.6M121.2,253.1H129.6" stroke="#0000ff" stroke-width="1.9" fill="none"/><path d="M122.2,243.1L125.4,244.9L128.6,243.1L127.5,246.7L128.6,250.3L125.4,248.5L122.2,250.3L123.3,246.7Z" fill="#0000ff" stroke="#0000ff" stroke-width="1.3" stroke-linejoin="round"/>
<path d="M130.6,193.0V202.8" stroke="#0000ff" stroke-width="1.4" fill="none"/><path d="M126.4,193.0H134.8M126.4,202.8H134.8" stroke="#0000ff" stroke-width="1.9" fill="none"/><path d="M127.4,194.3L130.6,196.1L133.8,194.3L132.7,197.9L133.8,201.5L130.6,199.7L127.4,201.5L128.5,197.9Z" fill="#0000ff" stroke="#0000ff" stroke-width="1.3" stroke-linejoin="round"/>
<path d="M129.1,179.2H138.7" stroke="#0000ff" stroke-width="2" fill="none"/><path d="M130.7,175.6L133.9,177.4L137.1,175.6L136.0,179.2L137.1,182.8L133.9,181.0L130.7,182.8L131.8,179.2Z" fill="#0000ff" stroke="#0000ff" stroke-width="1.3" stroke-linejoin="round"/>
<path d="M135.0,165.8H144.6" stroke="#0000ff" stroke-width="2" fill="none"/><path d="M136.6,162.2L139.8,164.0L143.0,162.2L141.9,165.8L143.0,169.4L139.8,167.6L136.6,169.4L137.7,165.8Z" fill="#0000ff" stroke="#0000ff" stroke-width="1.3" stroke-linejoin="round"/>
<path d="M142.2,161.7H151.8" stroke="#0000ff" stroke-width="2" fill="none"/><path d="M143.8,158.1L147.0,159.9L150.2,158.1L149.1,161.7L150.2,165.3L147.0,163.5L143.8,165.3L144.9,161.7Z" fill="#0000ff" stroke="#0000ff" stroke-width="1.3" stroke-linejoin="round"/>
<path d="M159.8,167.1H169.4" stroke="#0000ff" stroke-width="2" fill="none"/><path d="M161.4,163.5L164.6,165.3L167.8,163.5L166.7,167.1L167.8,170.7L164.6,168.9L161.4,170.7L162.5,167.1Z" fill="#0000ff" stroke="#0000ff" stroke-width="1.3" stroke-linejoin="round"/>
<path d="M177.3,178.0H186.9" stroke="#0000ff" stroke-width="2" fill="none"/><path d="M178.9,174.4L182.1,176.2L185.3,174.4L184.2,178.0L185.3,181.6L182.1,179.8L178.9,181.6L180.0,178.0Z" fill="#0000ff" stroke="#0000ff" stroke-width="1.3" stroke-linejoin="round"/>
<path d="M210.2,196.4H219.8" stroke="#0000ff" stroke-width="2" fill="none"/><path d="M211.8,192.8L215.0,194.6L218.2,192.8L217.1,196.4L218.2,200.0L215.0,198.2L211.8,200.0L212.9,196.4Z" fill="#0000ff" stroke="#0000ff" stroke-width="1.3" stroke-linejoin="round"/>
<path d="M294.3,238.0H303.9" stroke="#0000ff" stroke-width="2" fill="none"/><path d="M295.9,234.4L299.1,236.2L302.3,234.4L301.2,238.0L302.3,241.6L299.1,239.8L295.9,241.6L297.0,238.0Z" fill="#0000ff" stroke="#0000ff" stroke-width="1.3" stroke-linejoin="round"/>
<path d="M373.9,263.7H383.5" stroke="#0000ff" stroke-width="2" fill="none"/><path d="M375.5,260.1L378.7,261.9L381.9,260.1L380.8,263.7L381.9,267.3L378.7,265.5L375.5,267.3L376.6,263.7Z" fill="#0000ff" stroke="#0000ff" stroke-width="1.3" stroke-linejoin="round"/>
<path d="M453.8,282.7H463.4" stroke="#0000ff" stroke-width="2" fill="none"/><path d="M455.4,279.1L458.6,280.9L461.8,279.1L460.7,282.7L461.8,286.3L458.6,284.5L455.4,286.3L456.5,282.7Z" fill="#0000ff" stroke="#0000ff" stroke-width="1.3" stroke-linejoin="round"/>
<path d="M115.1,338.2V344.2" stroke="#ff0000" stroke-width="1.4" fill="none"/><path d="M110.9,338.2H119.3M110.9,344.2H119.3" stroke="#ff0000" stroke-width="1.9" fill="none"/><rect x="112.2" y="337.6" width="5.8" height="7.2" fill="none" stroke="#ff0000" stroke-width="1.9" stroke-linejoin="round"/>
<path d="M116.3,329.6H124.7" stroke="#ff0000" stroke-width="2" fill="none"/><rect x="117.6" y="326.0" width="5.8" height="7.2" fill="none" stroke="#ff0000" stroke-width="1.9" stroke-linejoin="round"/>
<path d="M124.2,314.4V324.4" stroke="#ff0000" stroke-width="1.4" fill="none"/><path d="M120.0,314.4H128.4M120.0,324.4H128.4" stroke="#ff0000" stroke-width="1.9" fill="none"/><rect x="121.3" y="315.8" width="5.8" height="7.2" fill="none" stroke="#ff0000" stroke-width="1.9" stroke-linejoin="round"/>
<path d="M127.8,282.1V294.1" stroke="#ff0000" stroke-width="1.4" fill="none"/><path d="M123.6,282.1H132.0M123.6,294.1H132.0" stroke="#ff0000" stroke-width="1.9" fill="none"/><rect x="124.9" y="284.5" width="5.8" height="7.2" fill="none" stroke="#ff0000" stroke-width="1.9" stroke-linejoin="round"/>
<path d="M132.2,241.7V250.7" stroke="#ff0000" stroke-width="1.4" fill="none"/><path d="M128.0,241.7H136.4M128.0,250.7H136.4" stroke="#ff0000" stroke-width="1.9" fill="none"/><rect x="129.3" y="242.6" width="5.8" height="7.2" fill="none" stroke="#ff0000" stroke-width="1.9" stroke-linejoin="round"/>
<path d="M131.0,229.9H139.4" stroke="#ff0000" stroke-width="2" fill="none"/><rect x="132.3" y="226.3" width="5.8" height="7.2" fill="none" stroke="#ff0000" stroke-width="1.9" stroke-linejoin="round"/>
<path d="M137.0,216.3H145.4" stroke="#ff0000" stroke-width="2" fill="none"/><rect x="138.3" y="212.7" width="5.8" height="7.2" fill="none" stroke="#ff0000" stroke-width="1.9" stroke-linejoin="round"/>
<path d="M143.4,211.8H151.8" stroke="#ff0000" stroke-width="2" fill="none"/><rect x="144.7" y="208.2" width="5.8" height="7.2" fill="none" stroke="#ff0000" stroke-width="1.9" stroke-linejoin="round"/>
<path d="M161.2,213.3H169.6" stroke="#ff0000" stroke-width="2" fill="none"/><rect x="162.5" y="209.7" width="5.8" height="7.2" fill="none" stroke="#ff0000" stroke-width="1.9" stroke-linejoin="round"/>
<path d="M178.5,220.5H186.9" stroke="#ff0000" stroke-width="2" fill="none"/><rect x="179.8" y="216.9" width="5.8" height="7.2" fill="none" stroke="#ff0000" stroke-width="1.9" stroke-linejoin="round"/>
<path d="M211.1,233.8H219.5" stroke="#ff0000" stroke-width="2" fill="none"/><rect x="212.4" y="230.2" width="5.8" height="7.2" fill="none" stroke="#ff0000" stroke-width="1.9" stroke-linejoin="round"/>
<path d="M294.7,265.9H303.1" stroke="#ff0000" stroke-width="2" fill="none"/><rect x="296.0" y="262.3" width="5.8" height="7.2" fill="none" stroke="#ff0000" stroke-width="1.9" stroke-linejoin="round"/>
<path d="M374.5,286.1H382.9" stroke="#ff0000" stroke-width="2" fill="none"/><rect x="375.8" y="282.5" width="5.8" height="7.2" fill="none" stroke="#ff0000" stroke-width="1.9" stroke-linejoin="round"/>
<path d="M454.4,301.4H462.8" stroke="#ff0000" stroke-width="2" fill="none"/><rect x="455.7" y="297.8" width="5.8" height="7.2" fill="none" stroke="#ff0000" stroke-width="1.9" stroke-linejoin="round"/>
<path d="M115.6,360.1V362.9" stroke="#00ff00" stroke-width="1.4" fill="none"/><path d="M111.4,360.1H119.8M111.4,362.9H119.8" stroke="#00ff00" stroke-width="1.9" fill="none"/><path d="M115.6,356.9L118.2,362.5H113.0Z" fill="#00ff00" stroke="#00ff00" stroke-width="0.8" stroke-linejoin="round"/>
<path d="M121.2,354.7V357.3" stroke="#00ff00" stroke-width="1.4" fill="none"/><path d="M117.0,354.7H125.4M117.0,357.3H125.4" stroke="#00ff00" stroke-width="1.9" fill="none"/><path d="M121.2,351.4L123.8,357.0H118.6Z" fill="#00ff00" stroke="#00ff00" stroke-width="0.8" stroke-linejoin="round"/>
<path d="M124.7,349.5V353.1" stroke="#00ff00" stroke-width="1.4" fill="none"/><path d="M120.5,349.5H128.9M120.5,353.1H128.9" stroke="#00ff00" stroke-width="1.9" fill="none"/><path d="M124.7,346.7L127.3,352.3H122.1Z" fill="#00ff00" stroke="#00ff00" stroke-width="0.8" stroke-linejoin="round"/>
<path d="M129.1,328.1V335.7" stroke="#00ff00" stroke-width="1.4" fill="none"/><path d="M124.9,328.1H133.3M124.9,335.7H133.3" stroke="#00ff00" stroke-width="1.9" fill="none"/><path d="M129.1,327.3L131.7,332.9H126.5Z" fill="#00ff00" stroke="#00ff00" stroke-width="0.8" stroke-linejoin="round"/>
<path d="M134.4,300.5V307.1" stroke="#00ff00" stroke-width="1.4" fill="none"/><path d="M130.2,300.5H138.6M130.2,307.1H138.6" stroke="#00ff00" stroke-width="1.9" fill="none"/><path d="M134.4,299.2L137.0,304.8H131.8Z" fill="#00ff00" stroke="#00ff00" stroke-width="0.8" stroke-linejoin="round"/>
<path d="M132.7,292.0H141.5" stroke="#00ff00" stroke-width="2.8" fill="none"/><path d="M137.1,287.4L139.7,293.0H134.5Z" fill="#00ff00" stroke="#00ff00" stroke-width="0.8" stroke-linejoin="round"/>
<path d="M137.8,281.7H146.6" stroke="#00ff00" stroke-width="2.8" fill="none"/><path d="M142.2,277.1L144.8,282.7H139.6Z" fill="#00ff00" stroke="#00ff00" stroke-width="0.8" stroke-linejoin="round"/>
<path d="M144.2,277.4H153.0" stroke="#00ff00" stroke-width="2.8" fill="none"/><path d="M148.6,272.8L151.2,278.4H146.0Z" fill="#00ff00" stroke="#00ff00" stroke-width="0.8" stroke-linejoin="round"/>
<path d="M161.2,277.0H170.0" stroke="#00ff00" stroke-width="2.8" fill="none"/><path d="M165.6,272.4L168.2,278.0H163.0Z" fill="#00ff00" stroke="#00ff00" stroke-width="0.8" stroke-linejoin="round"/>
<path d="M178.3,280.4H187.1" stroke="#00ff00" stroke-width="2.8" fill="none"/><path d="M182.7,275.8L185.3,281.4H180.1Z" fill="#00ff00" stroke="#00ff00" stroke-width="0.8" stroke-linejoin="round"/>
<path d="M210.9,287.7H219.7" stroke="#00ff00" stroke-width="2.8" fill="none"/><path d="M215.3,283.1L217.9,288.7H212.7Z" fill="#00ff00" stroke="#00ff00" stroke-width="0.8" stroke-linejoin="round"/>
<path d="M294.5,307.5H303.3" stroke="#00ff00" stroke-width="2.8" fill="none"/><path d="M298.9,302.9L301.5,308.5H296.3Z" fill="#00ff00" stroke="#00ff00" stroke-width="0.8" stroke-linejoin="round"/>
<path d="M374.3,320.2H383.1" stroke="#00ff00" stroke-width="2.8" fill="none"/><path d="M378.7,315.6L381.3,321.2H376.1Z" fill="#00ff00" stroke="#00ff00" stroke-width="0.8" stroke-linejoin="round"/>
<path d="M454.2,329.8H463.0" stroke="#00ff00" stroke-width="2.8" fill="none"/><path d="M458.6,325.2L461.2,330.8H456.0Z" fill="#00ff00" stroke="#00ff00" stroke-width="0.8" stroke-linejoin="round"/>
<path d="M111.9,373.8H120.5" stroke="#00ffff" stroke-width="3.4" fill="none"/><path d="M116.2,368.4L119.2,374.8H113.2Z" fill="none" stroke="#00ffff" stroke-width="1.8" stroke-linejoin="round"/>
<path d="M116.8,371.4H125.4" stroke="#00ffff" stroke-width="3.4" fill="none"/><path d="M121.1,366.0L124.1,372.4H118.1Z" fill="none" stroke="#00ffff" stroke-width="1.8" stroke-linejoin="round"/>
<path d="M121.1,370.2H129.7" stroke="#00ffff" stroke-width="3.4" fill="none"/><path d="M125.4,364.8L128.4,371.2H122.4Z" fill="none" stroke="#00ffff" stroke-width="1.8" stroke-linejoin="round"/>
<path d="M125.7,361.8H134.3" stroke="#00ffff" stroke-width="3.4" fill="none"/><path d="M130.0,356.4L133.0,362.8H127.0Z" fill="none" stroke="#00ffff" stroke-width="1.8" stroke-linejoin="round"/>
<path d="M131.0,348.2H139.6" stroke="#00ffff" stroke-width="3.4" fill="none"/><path d="M135.3,342.8L138.3,349.2H132.3Z" fill="none" stroke="#00ffff" stroke-width="1.8" stroke-linejoin="round"/>
<path d="M133.9,342.5H142.5" stroke="#00ffff" stroke-width="3.4" fill="none"/><path d="M138.2,337.1L141.2,343.5H135.2Z" fill="none" stroke="#00ffff" stroke-width="1.8" stroke-linejoin="round"/>
<path d="M139.6,337.9H148.2" stroke="#00ffff" stroke-width="3.4" fill="none"/><path d="M143.9,332.5L146.9,338.9H140.9Z" fill="none" stroke="#00ffff" stroke-width="1.8" stroke-linejoin="round"/>
<path d="M145.1,335.3H153.7" stroke="#00ffff" stroke-width="3.4" fill="none"/><path d="M149.4,329.9L152.4,336.3H146.4Z" fill="none" stroke="#00ffff" stroke-width="1.8" stroke-linejoin="round"/>
<path d="M161.7,335.2H170.3" stroke="#00ffff" stroke-width="3.4" fill="none"/><path d="M166.0,329.8L169.0,336.2H163.0Z" fill="none" stroke="#00ffff" stroke-width="1.8" stroke-linejoin="round"/>
<path d="M178.5,336.0H187.1" stroke="#00ffff" stroke-width="3.4" fill="none"/><path d="M182.8,330.6L185.8,337.0H179.8Z" fill="none" stroke="#00ffff" stroke-width="1.8" stroke-linejoin="round"/>
<path d="M211.4,339.3H220.0" stroke="#00ffff" stroke-width="3.4" fill="none"/><path d="M215.7,333.9L218.7,340.3H212.7Z" fill="none" stroke="#00ffff" stroke-width="1.8" stroke-linejoin="round"/>
<path d="M294.6,347.5H303.2" stroke="#00ffff" stroke-width="3.4" fill="none"/><path d="M298.9,342.1L301.9,348.5H295.9Z" fill="none" stroke="#00ffff" stroke-width="1.8" stroke-linejoin="round"/>
<path d="M374.4,353.8H383.0" stroke="#00ffff" stroke-width="3.4" fill="none"/><path d="M378.7,348.4L381.7,354.8H375.7Z" fill="none" stroke="#00ffff" stroke-width="1.8" stroke-linejoin="round"/>
<path d="M454.3,357.9H462.9" stroke="#00ffff" stroke-width="3.4" fill="none"/><path d="M458.6,352.5L461.6,358.9H455.6Z" fill="none" stroke="#00ffff" stroke-width="1.8" stroke-linejoin="round"/>
</g>
<path d="M100.01,379.7v-6M100.01,32.1v6M116.67,379.7v-6M116.67,32.1v6M133.33,379.7v-12M133.33,32.1v12M149.98,379.7v-6M149.98,32.1v6M166.64,379.7v-6M166.64,32.1v6M183.30,379.7v-6M183.30,32.1v6M199.96,379.7v-6M199.96,32.1v6M216.62,379.7v-12M216.62,32.1v12M233.28,379.7v-6M233.28,32.1v6M249.94,379.7v-6M249.94,32.1v6M266.60,379.7v-6M266.60,32.1v6M283.25,379.7v-6M283.25,32.1v6M299.91,379.7v-12M299.91,32.1v12M316.57,379.7v-6M316.57,32.1v6M333.23,379.7v-6M333.23,32.1v6M349.89,379.7v-6M349.89,32.1v6M366.55,379.7v-6M366.55,32.1v6M383.21,379.7v-12M383.21,32.1v12M399.87,379.7v-6M399.87,32.1v6M416.52,379.7v-6M416.52,32.1v6M433.18,379.7v-6M433.18,32.1v6M449.84,379.7v-6M449.84,32.1v6M83.35,350.73h5M466.5,350.73h-5M83.35,321.77h5M466.5,321.77h-5M83.35,292.80h5M466.5,292.80h-5M83.35,263.83h9.5M466.5,263.83h-9.5M83.35,234.87h5M466.5,234.87h-5M83.35,205.90h5M466.5,205.90h-5M83.35,176.93h5M466.5,176.93h-5M83.35,147.97h9.5M466.5,147.97h-9.5M83.35,119.00h5M466.5,119.00h-5M83.35,90.03h5M466.5,90.03h-5M83.35,61.07h5M466.5,61.07h-5" stroke="#000" stroke-width="1.3" fill="none"/>
<path d="M82.6,32.1H467.25M82.6,379.7H467.25" stroke="#000" stroke-width="2" fill="none"/>
<path d="M83.35,32.1V379.7M466.5,32.1V379.7" stroke="#000" stroke-width="1.5" fill="none"/>
<g style="will-change:transform">
<text transform="translate(52.09,38.30) scale(0.685,0.900)" font-family="'Liberation Sans', sans-serif" font-size="20" fill="#000" stroke="#000" stroke-width="1.07">0</text>
<text transform="translate(60.24,38.75) scale(1.103,0.982)" font-family="'Liberation Sans', sans-serif" font-size="20" fill="#000" stroke="#000" stroke-width="0.29">.</text>
<text transform="translate(66.03,38.39) scale(0.742,0.954)" font-family="'Liberation Mono', monospace" font-size="20" fill="#000" stroke="#000" stroke-width="0.77">6</text>
<text transform="translate(52.09,154.39) scale(0.685,0.922)" font-family="'Liberation Sans', sans-serif" font-size="20" fill="#000" stroke="#000" stroke-width="1.06">0</text>
<text transform="translate(60.24,154.85) scale(1.103,0.982)" font-family="'Liberation Sans', sans-serif" font-size="20" fill="#000" stroke="#000" stroke-width="0.29">.</text>
<text transform="translate(65.34,154.68) scale(0.777,1.006)" font-family="'Liberation Mono', monospace" font-size="20" fill="#000" stroke="#000" stroke-width="0.73">4</text>
<text transform="translate(52.09,270.30) scale(0.685,0.915)" font-family="'Liberation Sans', sans-serif" font-size="20" fill="#000" stroke="#000" stroke-width="1.06">0</text>
<text transform="translate(60.24,270.75) scale(1.103,0.982)" font-family="'Liberation Sans', sans-serif" font-size="20" fill="#000" stroke="#000" stroke-width="0.29">.</text>
<text transform="translate(65.47,270.57) scale(0.822,0.983)" font-family="'Liberation Mono', monospace" font-size="20" fill="#000" stroke="#000" stroke-width="0.72">2</text>
<text transform="translate(65.76,385.90) scale(0.852,0.915)" font-family="'Liberation Sans', sans-serif" font-size="20" fill="#000" stroke="#000" stroke-width="0.96">0</text>
<text transform="translate(130.39,402.35) scale(0.490,0.987)" font-family="'Liberation Mono', monospace" font-size="20" font-weight='bold' fill="#000" stroke="#000" stroke-width="0.41">1</text>
<text transform="translate(206.70,402.35) scale(0.479,0.987)" font-family="'Liberation Mono', monospace" font-size="20" font-weight='bold' fill="#000" stroke="#000" stroke-width="0.41">1</text>
<text transform="translate(213.64,402.35) scale(1.103,0.982)" font-family="'Liberation Sans', sans-serif" font-size="20" fill="#000" stroke="#000" stroke-width="0.29">.</text>
<text transform="translate(218.97,402.18) scale(0.765,0.976)" font-family="'Liberation Mono', monospace" font-size="20" fill="#000" stroke="#000" stroke-width="0.75">5</text>
<text transform="translate(294.69,402.28) scale(0.877,0.975)" font-family="'Liberation Mono', monospace" font-size="20" fill="#000" stroke="#000" stroke-width="0.70">2</text>
<text transform="translate(371.33,402.28) scale(0.779,0.975)" font-family="'Liberation Mono', monospace" font-size="20" fill="#000" stroke="#000" stroke-width="0.74">2</text>
<text transform="translate(380.24,402.35) scale(1.103,0.982)" font-family="'Liberation Sans', sans-serif" font-size="20" fill="#000" stroke="#000" stroke-width="0.29">.</text>
<text transform="translate(385.36,402.18) scale(0.775,0.976)" font-family="'Liberation Mono', monospace" font-size="20" fill="#000" stroke="#000" stroke-width="0.74">5</text>
<text transform="translate(461.59,402.28) scale(0.828,0.976)" font-family="'Liberation Mono', monospace" font-size="20" fill="#000" stroke="#000" stroke-width="0.72">3</text>
<g font-family="'Liberation Serif', serif" fill="#000" stroke="#000" stroke-width="0.55">
<text x="258.3" y="426.8" font-size="20" stroke-width="0.95" textLength="8.4" lengthAdjust="spacingAndGlyphs">T</text>
<text transform="translate(268.43,429.71) scale(1.539,1.342)" font-family="'Liberation Serif', serif" font-size="20" fill="#000" stroke="#000" stroke-width="0.17">/</text>
<text x="277.2" y="426.8" font-size="20" stroke-width="0.95" textLength="8.4" lengthAdjust="spacingAndGlyphs">T</text>
<text x="285.9" y="431.9" font-size="13.5" font-weight="bold" stroke-width="0.3" textLength="5.2" lengthAdjust="spacingAndGlyphs">c</text>
</g>
<g transform="translate(40.3,230) rotate(-90)" font-family="'Liberation Serif', serif" fill="#000" stroke="#000" stroke-width="0.55">
<text x="0" y="0" font-size="17.5" stroke-width="0.8" textLength="9.9" lengthAdjust="spacingAndGlyphs">n</text>
<text x="12.0" y="3.5" font-size="11.5" font-weight="bold" stroke-width="0.5" textLength="6.6" lengthAdjust="spacingAndGlyphs">B</text>
<text x="20.2" y="2.4" font-size="22" stroke-width="0.6" textLength="10.6" lengthAdjust="spacingAndGlyphs">/</text>
<text x="30.4" y="-0.7" font-size="17" stroke-width="0.95" textLength="9.6" lengthAdjust="spacingAndGlyphs">T</text>
<text x="40.8" y="-5.4" font-size="10.5" font-weight="bold" stroke-width="0.4" textLength="8.2" lengthAdjust="spacingAndGlyphs">3</text>
</g>
</g>
</svg>
</body></html>
